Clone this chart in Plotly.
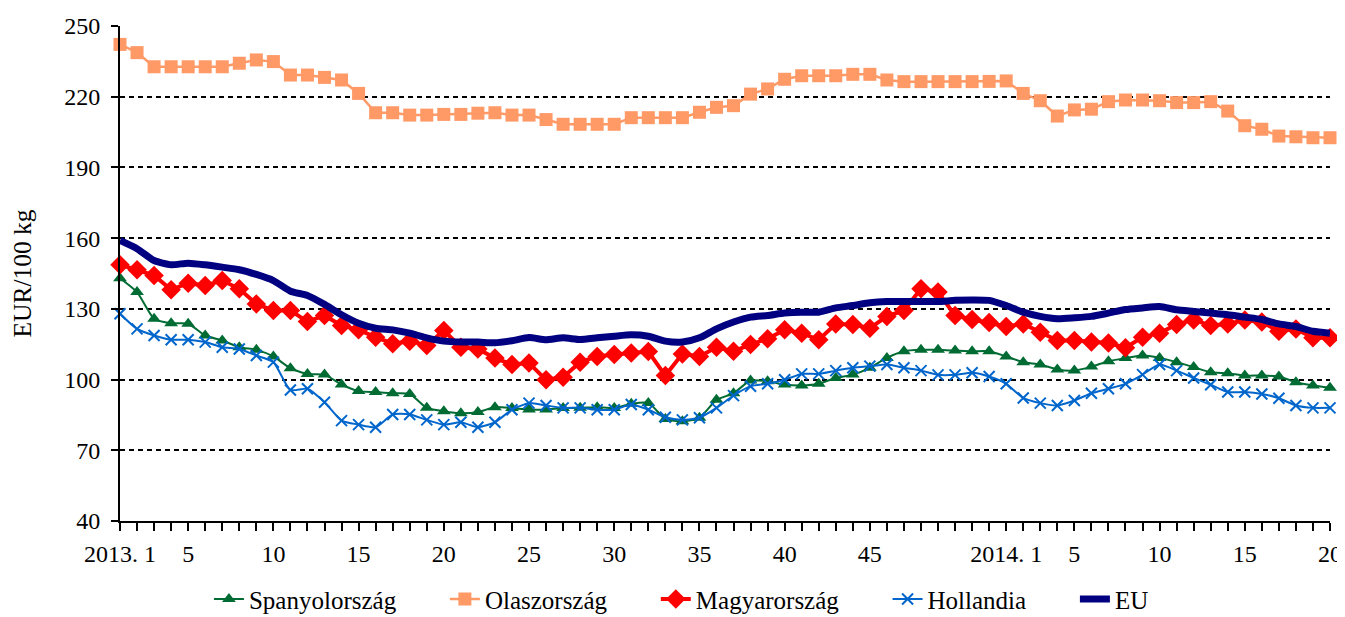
import plotly.graph_objects as go

weeks_2013 = [f"2013. {w}" for w in range(1, 53)]
weeks_2014 = [f"2014. {w}" for w in range(1, 21)]
categories = weeks_2013 + weeks_2014

tick_labels = []
for c in categories:
    yr, w = c.split(". ")
    w = int(w)
    if w == 1:
        tick_labels.append(c)
    elif w % 5 == 0 and w <= 45:
        tick_labels.append(str(w))
    else:
        tick_labels.append("")

spanyol = [143, 137.1, 125.8, 123.9, 123.7, 118.7, 116.6, 113.7, 112.6, 109.8,
           104.8, 102.4, 102.1, 97.9, 95.1, 94.7, 94.2, 93.9, 88, 86.6,
           85.7, 86.2, 88.3, 87.9, 87.3, 87.3, 87.9, 88, 88.3, 87.9,
           89.7, 90.1, 83.3, 82.3, 83.8, 91.4, 94.2, 99.6, 99.3, 97.9,
           97.5, 98.2, 100.7, 102.1, 105, 109.2, 112, 112.6, 112.6, 112.3,
           112, 112, 109.8, 107.4, 106.4, 104.3, 103.8, 105.5, 107.8, 109.1,
           110.2, 109.2, 107.4, 105.3, 103.1, 102.7, 101.7, 101.7, 101.3, 98.9,
           97.5, 96.5]

olasz = [242.2, 238.7, 232.7, 232.7, 232.7, 232.7, 232.7, 234.2, 235.6, 234.9,
         229.2, 229.2, 228.2, 227.1, 221.4, 213.2, 213.2, 212.2, 212.2, 212.5,
         212.5, 213, 213.2, 212.2, 212.2, 210.3, 208.3, 208.3, 208.3, 208.3,
         211.1, 211.1, 211.1, 211.1, 213.4, 215.5, 216.2, 221.1, 223.3, 227.4,
         228.9, 228.9, 228.9, 229.5, 229.5, 227.1, 226.4, 226.4, 226.4, 226.4,
         226.4, 226.5, 226.7, 221.4, 218.3, 211.8, 214.4, 214.7, 217.9, 218.6,
         218.6, 218.3, 217.5, 217.5, 217.9, 213.9, 207.7, 206.2, 203.3, 203,
         202.6, 202.6]

magyar = [148.7, 146.6, 144.2, 138.1, 140.9, 139.9, 142, 138.5, 132.1, 129.3,
          129.3, 124.6, 127.2, 122.9, 121.1, 118, 115.2, 116.3, 114.5, 120.8,
          113.7, 113, 109.1, 106.4, 107, 99.9, 101, 107.4, 109.8, 110.6,
          111.3, 111.9, 101.7, 110.9, 109.8, 113.7, 112, 114.9, 117.3, 121.1,
          119.7, 116.9, 123.6, 123.4, 121.8, 126.8, 129.3, 138.5, 137.1, 127.2,
          125.5, 124.2, 122.5, 123.6, 120.1, 116.6, 116.6, 115.9, 115.5, 113.5,
          118, 119.7, 123.4, 125.3, 122.9, 123.6, 125.3, 124.4, 120.5, 121.5,
          117.7, 117.7]

holland = [127.9, 121.5, 118.7, 116.9, 116.9, 115.9, 113.7, 113, 110.2, 107.4,
           95.6, 96.1, 90.4, 82.6, 80.9, 79.8, 85.2, 85.2, 82.9, 80.9,
           81.9, 79.8, 81.9, 87.2, 90, 89, 88, 88, 87.2, 87.2,
           89.4, 87.2, 84, 82.9, 83.8, 88, 93.2, 97.2, 98.2, 99.9,
           102.4, 102.4, 103.8, 105, 105.7, 106.4, 105, 103.8, 102, 102,
           102.9, 101.3, 98.2, 92.2, 90, 89, 91.1, 94.2, 96.1, 98.2,
           102.1, 106.4, 103.8, 100.7, 97.8, 94.7, 94.7, 93.9, 92.1, 89,
           88, 88]

eu = [159, 155.5, 150.5, 148.7, 149.4, 148.7, 147.7, 146.6, 144.6, 142,
      137.5, 135.7, 131.9, 127.5, 123.9, 121.8, 121.1, 119.7, 117.7, 116.3,
      115.9, 115.9, 115.6, 116.5, 117.8, 116.9, 117.7, 117, 117.7, 118.4,
      119, 118.4, 116.3, 115.9, 117.7, 121.5, 124.4, 126.5, 127.2, 128.2,
      128.6, 128.6, 130.4, 131.4, 132.6, 133.1, 133.1, 133.1, 133.1, 133.6,
      133.8, 133.6, 131.4, 128.6, 126.8, 125.8, 126.2, 126.8, 128.2, 129.7,
      130.4, 131, 129.6, 128.9, 128.2, 127.5, 126.5, 125.5, 123.6, 122.5,
      120.5, 119.7]

x = list(range(len(categories)))
FONT = "Liberation Serif, Times New Roman, serif"
PAD = "\u00a0" * 7

fig = go.Figure()
fig.add_trace(go.Scatter(
    x=x, y=spanyol, name="Spanyolország" + PAD, mode="lines+markers",
    line=dict(color="#006B33", width=2, shape="spline", smoothing=0.6),
    marker=dict(symbol="triangle-up", size=12, color="#006B33"),
    cliponaxis=False))
fig.add_trace(go.Scatter(
    x=x, y=olasz, name="Olaszország" + PAD, mode="lines+markers",
    line=dict(color="#FF9966", width=2.5),
    marker=dict(symbol="square", size=13, color="#FF9966"),
    cliponaxis=False))
fig.add_trace(go.Scatter(
    x=x, y=magyar, name="Magyarország" + PAD, mode="lines+markers",
    line=dict(color="#FF0000", width=4),
    marker=dict(symbol="diamond", size=15, color="#FF0000"),
    cliponaxis=False))
fig.add_trace(go.Scatter(
    x=x, y=holland, name="Hollandia" + PAD, mode="lines+markers",
    line=dict(color="#0066CC", width=2, shape="spline", smoothing=0.6),
    marker=dict(symbol="x-thin-open", size=11, color="#0066CC",
                line=dict(color="#0066CC", width=2)),
    cliponaxis=False))
fig.add_trace(go.Scatter(
    x=x, y=eu, name="EU", mode="lines",
    line=dict(color="#000080", width=7, shape="spline", smoothing=0.6),
    cliponaxis=False))

fig.update_layout(
    width=1337, height=609,
    margin=dict(l=112, r=15, t=18, b=96, autoexpand=False),
    paper_bgcolor="white", plot_bgcolor="white",
    font=dict(family=FONT, size=24, color="black"),
    showlegend=True,
    legend=dict(orientation="h", x=0.464, xanchor="center", y=-0.158,
                yanchor="middle", font=dict(family=FONT, size=25),
                tracegroupgap=0),
    xaxis=dict(
        range=[0, 71], tickmode="array", tickvals=x, ticktext=tick_labels,
        tickangle=0,
        showline=True, linecolor="black", linewidth=2,
        ticks="outside", ticklen=8, tickwidth=1.5, tickcolor="black",
        ticklabelstandoff=2,
        showgrid=False, zeroline=False,
        tickfont=dict(family=FONT, size=24)),
    yaxis=dict(
        range=[40, 250], tickmode="array",
        tickvals=[40, 70, 100, 130, 160, 190, 220, 250],
        showline=True, linecolor="black", linewidth=2,
        ticks="outside", ticklen=7, tickwidth=1.5, tickcolor="black",
        ticklabelstandoff=6,
        showgrid=True, gridcolor="black", gridwidth=2, griddash="5px,4px",
        zeroline=False,
        title=dict(text="EUR/100 kg", font=dict(family=FONT, size=25.5), standoff=30),
        tickfont=dict(family=FONT, size=24)),
)

fig.write_html("out.html")
